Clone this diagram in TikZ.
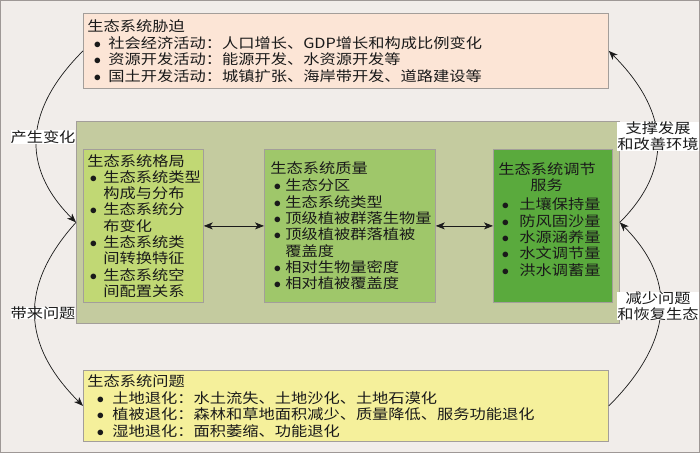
\documentclass[tikz,border=0pt]{standalone}
\usepackage{fontspec}
\setmainfont{Noto Sans CJK SC}[FakeStretch=1.16]
\usepackage{tikz}
\usetikzlibrary{arrows.meta}
\definecolor{paper}{HTML}{F1EDEA}
\definecolor{frame}{HTML}{9E9896}
\definecolor{boxline}{HTML}{A39E9A}
\definecolor{stressfill}{HTML}{FCE5D6}
\definecolor{panelfill}{HTML}{C4CB9F}
\definecolor{patternfill}{HTML}{C1D874}
\definecolor{qualityfill}{HTML}{9FC76A}
\definecolor{servicefill}{HTML}{5AAA3D}
\definecolor{problemfill}{HTML}{F5F09B}
\definecolor{ink}{HTML}{1A1A1A}
\newcommand{\itm}[2]{\hspace*{#1}\makebox[0pt]{$\bullet$}\hspace*{#2}}
\tikzstyle{box}=[rectangle, draw=boxline, line width=0.8pt, anchor=north west, inner xsep=4pt, inner ysep=0pt, align=left, text=ink, font=\fontsize{14}{16.3}\selectfont]
\tikzstyle{tag}=[fill=white, inner sep=0pt, align=center, text=ink, font=\fontsize{14}{16}\selectfont]
\tikzstyle{link}=[line width=0.7pt, draw=ink, -{Stealth[length=9pt,width=7pt,inset=2.5pt]}]
\tikzstyle{dlink}=[line width=0.7pt, draw=ink, {Stealth[length=9pt,width=7pt,inset=2.5pt]}-{Stealth[length=9pt,width=7pt,inset=2.5pt]}]

\begin{document}
\begin{tikzpicture}[x=1pt, y=-1pt]
			\useasboundingbox (0,0) rectangle (700,453);
			\fill[paper] (0,0) rectangle (700,453);
			\draw[frame, line width=1pt] (0.5,0.5) rectangle (699.5,452.5);
			\node[box, fill=stressfill, text width=517pt, minimum height=75pt] (stress) at (83,13)
				{生态系统胁迫\\[1pt]
				\itm{10pt}{11pt}社会经济活动：人口增长、GDP增长和构成比例变化\\
				\itm{10pt}{11pt}资源开发活动：能源开发、水资源开发等\\
				\itm{10pt}{11pt}国土开发活动：城镇扩张、海岸带开发、道路建设等};
			\node[box, fill=panelfill, draw=boxline, minimum width=543pt, minimum height=202pt] (panel) at (76,121) {};
			\node[box, fill=patternfill, text width=112pt, minimum height=153pt] (pattern) at (83,149)
				{生态系统格局\\
				\itm{6pt}{10pt}生态系统类型\\
				\hspace*{16pt}构成与分布\\
				\itm{6pt}{10pt}生态系统分\\
				\hspace*{16pt}布变化\\
				\itm{6pt}{10pt}生态系统类\\
				\hspace*{16pt}间转换特征\\
				\itm{6pt}{10pt}生态系统空\\
				\hspace*{16pt}间配置关系};
			\node[box, fill=qualityfill, text width=163pt, minimum height=153pt] (quality) at (264,149)
				{\hspace*{2pt}生态系统质量\\[1pt]
				\itm{9pt}{8pt}生态分区\\
				\itm{9pt}{8pt}生态系统类型\\
				\itm{9pt}{8pt}顶级植被群落生物量\\
				\itm{9pt}{8pt}顶级植被群落植被\\
				\hspace*{17pt}覆盖度\\
				\itm{9pt}{8pt}相对生物量密度\\
				\itm{9pt}{8pt}相对植被覆盖度};
			\node[box, fill=servicefill, text width=111pt, minimum height=153pt] (service) at (493,149)
				{\hspace*{1pt}生态系统调节\\
				\hspace*{33pt}服务\\[3pt]
				\itm{8pt}{14pt}土壤保持量\\
				\itm{8pt}{14pt}防风固沙量\\
				\itm{8pt}{14pt}水源涵养量\\
				\itm{8pt}{14pt}水文调节量\\
				\itm{8pt}{14pt}洪水调蓄量\\[-2pt]
				\mbox{}};
			\node[box, fill=problemfill, text width=517pt, minimum height=71pt] (problem) at (83,370)
				{生态系统问题\\[1pt]
				\itm{13pt}{12pt}土地退化：水土流失、土地沙化、土地石漠化\\
				\itm{13pt}{12pt}植被退化：森林和草地面积减少、质量降低、服务功能退化\\
				\itm{13pt}{12pt}湿地退化：面积萎缩、功能退化};
			\draw[dlink] (pattern.east) -- (quality.west);
			\draw[dlink] (quality.east) -- (service.west);
			\draw[link] (stress.west) to[out=225, in=135, looseness=1.2] (panel.west);
			\draw[link] (panel.west) to[out=228, in=135, looseness=1.2] (problem.west);
			\draw[link] (panel.east) to[out=45, in=-45, looseness=1.2] (stress.east);
			\draw[link] (problem.east) to[out=45, in=-45, looseness=1.2] (panel.east);
			\node[tag] (change) at (43,137) {产生变化};
			\node[tag] (issue) at (43,313) {带来问题};
			\node[tag] (support) at (658,136) {支撑发展\\和改善环境};
			\node[tag] (restore) at (658,306) {减少问题\\和恢复生态};
		\end{tikzpicture}
\end{document}
